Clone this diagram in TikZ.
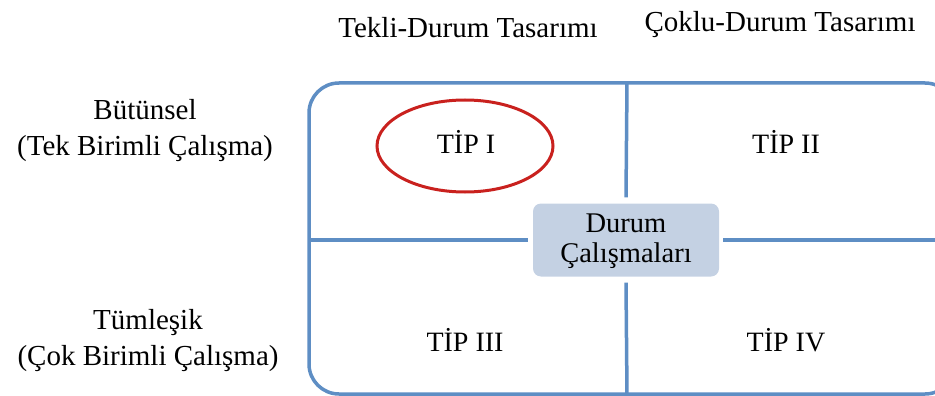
\documentclass[tikz,border=0pt]{standalone}
\usepackage{fontspec}
\setmainfont{Liberation Serif}
\usetikzlibrary{calc}
\definecolor{frameblue}{HTML}{5E8EC4}
\definecolor{boxfill}{HTML}{C4D1E3}
\definecolor{ringred}{HTML}{C9211E}
\tikzset{
  lbl/.style={font=\fontsize{29}{36}\selectfont, align=center, text=black},
  cell/.style={font=\fontsize{28}{34}\selectfont, text=black},
  frame/.style={draw=frameblue, line width=3.5pt},
}
\begin{document}
\begin{tikzpicture}[x=1pt,y=-1pt]
\useasboundingbox (0,0) rectangle (935,396);
% outer frame
\draw[frame, rounded corners=30pt] (309,83) rectangle (955,394);
\coordinate (T) at (627,83);
\coordinate (B) at (627,394);
\coordinate (L) at (309,240);
\coordinate (R) at (955,240);
% centre box
\node[fill=boxfill, rounded corners=8pt, minimum width=186pt, minimum height=73pt, inner sep=0pt] (C) at (626,240) {};
\node[font=\fontsize{28.5}{30}\selectfont, align=center, inner sep=0pt] (Ct) at (626,241) {Durum\\Çalışmaları};
\draw[frame] (C.north) ++(0,-6) -- (T);
\draw[frame] (C.south) ++(0,6) -- (B);
\draw[frame] (C.west) ++(-5,0) -- (L);
\draw[frame] (C.east) ++(4,0) -- (R);
% headers
\node[lbl] (h1) at (468,28) {Tekli-Durum Tasarımı};
\node[lbl] (h2) at (780,25) {Çoklu-Durum Tasarımı};
\node[lbl] (r1) at (145,131) {Bütünsel\\(Tek Birimli Çalışma)};
\node[lbl] (r2) at (148,341) {Tümleşik\\(Çok Birimli Çalışma)};
% cells
\node[cell] (t1) at (466,142) {TİP I};
\node[cell] (t2) at (786,142) {TİP II};
\node[cell] (t3) at (465,340) {TİP III};
\node[cell] (t4) at (786,340) {TİP IV};
\draw[ringred, line width=3pt] (465,146) ellipse (88pt and 46pt);
\end{tikzpicture}
\end{document}
